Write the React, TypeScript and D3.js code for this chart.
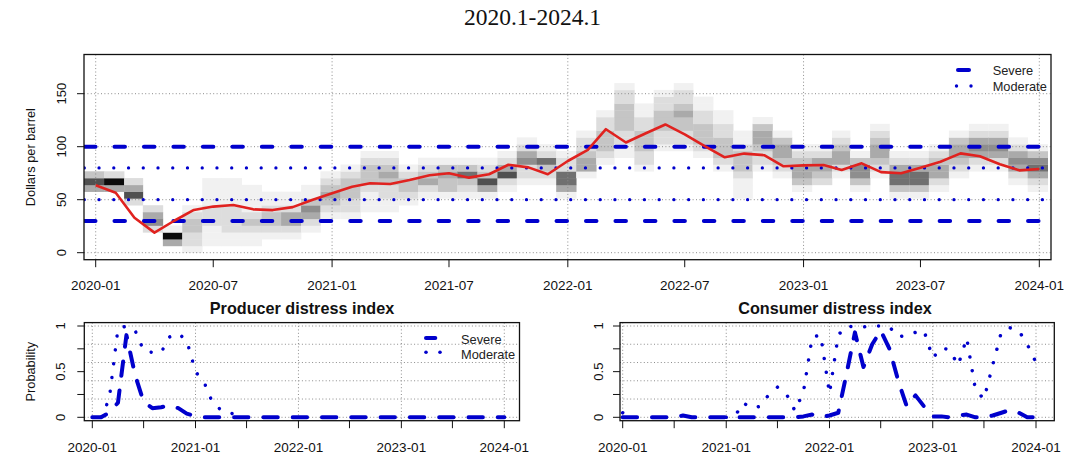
import React from "react";
import * as d3 from "d3";

// monthly observations, 2020-01 .. 2024-01
const MONTHS: Date[] = d3.timeMonth.range(new Date(2020, 0, 1), new Date(2024, 1, 1));

const TITLE = "2020.1-2024.1";
const PRICE_LABEL = "Dollars per barrel";
const PROB_LABEL = "Probability";
const PANEL_TITLES = ["Producer distress index", "Consumer distress index"];
const LEGEND = ["Severe", "Moderate"];

// oil price, dollars per barrel (red line)
const PRICE = [
  63.6, 56.6, 33.0, 18.9, 29.9, 40.3, 43.5, 45.0, 40.9, 40.2, 43.0, 49.7,
  56.0, 62.3, 65.5, 64.8, 68.6, 73.0, 75.0, 70.8, 74.0, 83.0, 80.5, 74.0,
  86.5, 97.0, 116.5, 104.0, 112.5, 121.0, 111.7, 100.5, 90.0, 93.5, 92.0, 81.5,
  82.4, 82.7, 78.0, 84.3, 76.0, 75.0, 80.2, 85.8, 93.7, 91.0, 83.5, 77.7,
  79.0,
];

// density columns: lowest bin per month and shade (0 white .. 9 black) of each bin upwards
const HEAT_BIN = 6.4;
const HEAT_FROM = [
  9, 9, 7, 3, 1, 0, 1, 1, 1, 2, 2, 3,
  5, 5, 6, 6, 7, 8, 8, 8, 8, 9, 10, 10,
  8, 11, 13, 14, 12, 15, 15, 14, 12, 8, 12, 11,
  9, 10, 11, 9, 11, 8, 8, 9, 11, 12, 12, 10,
  9,
];
const HEAT_SHADES = [
  "473", "492", "2742", "2542", "491", "1223321", "1112221111", "1122221111", "112321111", "1233211", "1244211", "1245311",
  "1234321", "12233321", "111233321", "112234321", "123321", "124321", "133431", "123631", "147321", "127421", "1225421", "123621",
  "1466221", "1443221", "12333221", "11223333221", "1223332211", "122333221", "1223343221", "123332211", "123332211", "1112333211", "12234431", "1234431",
  "1344321", "234421", "1244321", "135531", "12344321", "1366421", "1366421", "1244321", "1234431", "1245421", "1245421", "1245421",
  "1246531",
];

const SEVERE_LEVELS = [30, 100];
const MODERATE_LEVELS = [50, 80];
const PRICE_TICKS = [0, 50, 100, 150];

const PROD_SEVERE = [
  0, 0, 0.05, 0.16, 0.9, 0.46, 0.17, 0.1, 0.11, 0.13, 0.1, 0.04,
  0.01, 0, 0, 0, 0, 0, 0, 0, 0, 0, 0, 0,
  0, 0, 0, 0, 0, 0, 0, 0, 0, 0, 0, 0,
  0, 0, 0, 0, 0, 0, 0, 0, 0, 0, 0, 0,
  0,
];
const PROD_MODERATE = [
  0, 0, 0.2, 0.97, 1.0, 0.95, 0.73, 0.71, 0.71, 0.88, 0.92, 0.84,
  0.5, 0.38, 0.17, 0.08, 0.06, 0, 0, 0, 0, 0, 0, 0,
  0, 0, 0, 0, 0, 0, 0, 0, 0, 0, 0, 0,
  0, 0, 0, 0, 0, 0, 0, 0, 0, 0, 0, 0,
  0,
];
const CONS_SEVERE = [
  0, 0, 0, 0, 0, 0, 0, 0.02, 0, 0, 0, 0,
  0, 0, 0, 0, 0, 0, 0, 0, 0, 0.01, 0.03, 0,
  0.02, 0.05, 0.46, 0.93, 0.55, 0.8, 0.95, 0.75, 0.4, 0.12, 0.24, 0.12,
  0.01, 0.01, 0, 0.02, 0.03, 0, 0, 0.02, 0.05, 0.08, 0.05, 0,
  0,
];
const CONS_MODERATE = [
  0.05, 0, 0, 0, 0, 0, 0, 0, 0, 0, 0, 0,
  0, 0.01, 0.16, 0.1, 0.12, 0.25, 0.33, 0.26, 0.07, 0.28, 0.88, 0.9,
  0.26, 0.9, 1.0, 0.99, 0.99, 1.0, 1.0, 0.99, 0.88, 0.9, 0.93, 0.95,
  0.65, 0.76, 0.74, 0.57, 0.87, 0.3, 0.2, 0.57, 0.94, 0.98, 0.95, 0.8,
  0.6,
];

const PROB_TICKS = [0, 0.25, 0.5, 0.75, 1];
const PROB_TICK_LABELS = ["0", "", "0.5", "", "1"];
const PROB_GRID = [0, 0.2, 0.4, 0.6, 0.8, 1];

const BLUE = "#0000cc";
const RED = "#e0221f";
const GRID = "#8c8c8c";
const SANS = "'Liberation Sans', Arial, Helvetica, sans-serif";

// grey ramp, light shades stay pale
const shade = (s: number) => {
  const g = Math.round(255 - 243 * Math.pow(s / 9, 1.3));
  return d3.rgb(g, g, g).formatHex();
};
const halfYears = MONTHS.filter((d) => d.getMonth() % 6 === 0);
const years = MONTHS.filter((d) => d.getMonth() === 0);
const fmt = d3.timeFormat("%Y-%m");

function MainChart() {
  const box = { l: 84, r: 1051, t: 54.5, b: 259.7 };
  const x = d3.scaleTime().domain([MONTHS[0], MONTHS[48]]).range([95.7, 1039.3]);
  const y = d3.scaleLinear().domain([0, 150]).range([252.7, 93.7]);
  const line = d3
    .line<number>()
    .x((_, i) => x(MONTHS[i]))
    .y((d) => y(d));

  return (
    <g>
      <defs>
        <clipPath id="main-clip">
          <rect x={box.l} y={box.t} width={box.r - box.l} height={box.b - box.t} />
        </clipPath>
      </defs>
      <g clipPath="url(#main-clip)">
        {MONTHS.map((m, i) => {
          const x0 = x(new Date(m.getFullYear(), m.getMonth() - 1, 14));
          const x1 = x(new Date(m.getFullYear(), m.getMonth(), 14));
          return HEAT_SHADES[i].split("").map((s, j) => {
            const b = HEAT_FROM[i] + j;
            return (
              <rect
                key={`${i}-${j}`}
                x={x0}
                width={x1 - x0 + 0.3}
                y={y((b + 1) * HEAT_BIN)}
                height={y(b * HEAT_BIN) - y((b + 1) * HEAT_BIN) + 0.3}
                fill={shade(+s)}
              />
            );
          });
        })}
        {PRICE_TICKS.map((v) => (
          <line key={v} x1={box.l} x2={box.r} y1={y(v)} y2={y(v)} stroke={GRID} strokeDasharray="1 2.4" />
        ))}
        {years.map((d) => (
          <line key={+d} x1={x(d)} x2={x(d)} y1={box.t} y2={box.b} stroke={GRID} strokeDasharray="1 2.4" />
        ))}
        {SEVERE_LEVELS.map((v) => (
          <line
            key={v}
            x1={box.l}
            x2={box.r}
            y1={y(v)}
            y2={y(v)}
            stroke={BLUE}
            strokeWidth={4}
            strokeLinecap="round"
            strokeDasharray="10.5 18.97"
            strokeDashoffset={-1}
          />
        ))}
        {MODERATE_LEVELS.map((v) => (
          <line
            key={v}
            x1={box.l}
            x2={box.r}
            y1={y(v)}
            y2={y(v)}
            stroke={BLUE}
            strokeWidth={3.3}
            strokeLinecap="round"
            strokeDasharray="0.01 14.73"
            strokeDashoffset={-0.3}
          />
        ))}
        <path d={line(PRICE) ?? ""} fill="none" stroke={RED} strokeWidth={2.6} strokeLinejoin="round" />
      </g>
      <rect x={box.l} y={box.t} width={box.r - box.l} height={box.b - box.t} fill="none" stroke="#111" strokeWidth={1.3} />
      {PRICE_TICKS.map((v) => (
        <g key={v}>
          <line x1={box.l} x2={box.l - 7} y1={y(v)} y2={y(v)} stroke="#111" />
          <text
            transform={`translate(61,${y(v)}) rotate(-90)`}
            dy="0.36em"
            textAnchor="middle"
            fontSize={13}
            fontFamily={SANS}
            fill="#111"
          >
            {v}
          </text>
        </g>
      ))}
      {halfYears.map((d) => (
        <g key={+d}>
          <line x1={x(d)} x2={x(d)} y1={box.b} y2={box.b + 7.5} stroke="#111" />
          <text x={x(d)} y={290} textAnchor="middle" fontSize={13.5} fontFamily={SANS} fill="#111">
            {fmt(d)}
          </text>
        </g>
      ))}
      <text
        transform={`translate(30,${(box.t + box.b) / 2}) rotate(-90)`}
        dy="0.36em"
        textAnchor="middle"
        fontSize={12.8}
        fontFamily={SANS}
        fill="#111"
      >
        {PRICE_LABEL}
      </text>
      <line x1={958} x2={969} y1={70} y2={70} stroke={BLUE} strokeWidth={4} strokeLinecap="round" />
      <circle cx={956.5} cy={86} r={1.7} fill={BLUE} />
      <circle cx={971} cy={86} r={1.7} fill={BLUE} />
      <text x={992.7} y={75} fontSize={12.8} fontFamily={SANS} fill="#222">
        {LEGEND[0]}
      </text>
      <text x={992.7} y={91} fontSize={12.8} fontFamily={SANS} fill="#222">
        {LEGEND[1]}
      </text>
    </g>
  );
}

interface PanelProps {
  title: string;
  box: { l: number; r: number };
  range: [number, number];
  labelX: number;
  severe: number[];
  moderate: number[];
  showYLabel?: boolean;
  showLegend?: boolean;
  titleX: number;
}

function DistressPanel({ title, box, range, labelX, severe, moderate, showYLabel, showLegend, titleX }: PanelProps) {
  const t = 322.6;
  const b = 420.7;
  const x = d3.scaleTime().domain([MONTHS[0], MONTHS[48]]).range(range);
  const y = d3.scaleLinear().domain([0, 1]).range([417.3, 326]);
  // flat stretches at zero sit under the severe line and are not visible
  const shown = moderate.map((d, i) => d > 0 || (moderate[i - 1] ?? 0) > 0 || (moderate[i + 1] ?? 0) > 0);
  const line = d3
    .line<number>()
    .x((_, i) => x(MONTHS[i]))
    .y((d) => y(d));
  const modLine = d3
    .line<number>()
    .defined((_, i) => shown[i])
    .x((_, i) => x(MONTHS[i]))
    .y((d) => y(d));

  return (
    <g>
      {PROB_GRID.map((v) => (
        <line key={v} x1={box.l} x2={box.r} y1={y(v)} y2={y(v)} stroke={GRID} strokeDasharray="1 2.4" />
      ))}
      {years.map((d) => (
        <line key={+d} x1={x(d)} x2={x(d)} y1={t} y2={b} stroke={GRID} strokeDasharray="1 2.4" />
      ))}
      <path
        d={modLine(moderate) ?? ""}
        fill="none"
        stroke={BLUE}
        strokeWidth={3.5}
        strokeLinecap="round"
        strokeDasharray="0.01 13.9"
      />
      <path
        d={line(severe) ?? ""}
        fill="none"
        stroke={BLUE}
        strokeWidth={4}
        strokeLinecap="round"
        strokeLinejoin="round"
        strokeDasharray="14.4 14.9"
      />
      <rect x={box.l} y={t} width={box.r - box.l} height={b - t} fill="none" stroke="#111" strokeWidth={1.3} />
      {PROB_TICKS.map((v, i) => (
        <g key={v}>
          <line x1={box.l} x2={box.l - 7} y1={y(v)} y2={y(v)} stroke="#111" />
          {PROB_TICK_LABELS[i] && (
            <text
              transform={`translate(${labelX},${y(v)}) rotate(-90)`}
              dy="0.36em"
              textAnchor="middle"
              fontSize={13}
              fontFamily={SANS}
              fill="#111"
            >
              {PROB_TICK_LABELS[i]}
            </text>
          )}
        </g>
      ))}
      {halfYears.map((d) => (
        <line key={+d} x1={x(d)} x2={x(d)} y1={b} y2={b + 7.5} stroke="#111" />
      ))}
      {years.map((d) => (
        <text key={+d} x={x(d)} y={452} textAnchor="middle" fontSize={13.5} fontFamily={SANS} fill="#111">
          {fmt(d)}
        </text>
      ))}
      <text x={titleX} y={314} textAnchor="middle" fontSize={16.2} fontWeight="bold" fontFamily={SANS} fill="#111">
        {title}
      </text>
      {showYLabel && (
        <text
          transform={`translate(30,${(t + b) / 2}) rotate(-90)`}
          dy="0.36em"
          textAnchor="middle"
          fontSize={12.8}
          fontFamily={SANS}
          fill="#111"
        >
          {PROB_LABEL}
        </text>
      )}
      {showLegend && (
        <g>
          <line x1={426} x2={435.3} y1={338} y2={338} stroke={BLUE} strokeWidth={4} strokeLinecap="round" />
          <circle cx={426} cy={352.3} r={1.8} fill={BLUE} />
          <circle cx={440} cy={352.3} r={1.8} fill={BLUE} />
          <text x={461} y={344} fontSize={12.8} fontFamily={SANS} fill="#222">
            {LEGEND[0]}
          </text>
          <text x={461} y={359} fontSize={12.8} fontFamily={SANS} fill="#222">
            {LEGEND[1]}
          </text>
        </g>
      )}
    </g>
  );
}

export default function App() {
  return (
    <div style={{ position: "absolute", left: 0, top: 0 }}>
      <svg width={1080} height={459} viewBox="0 0 1080 459" style={{ display: "block", background: "#fff" }}>
        <text
          x={532.5}
          y={24.5}
          textAnchor="middle"
          fontSize={23.5}
          fontFamily="'Liberation Serif', 'Times New Roman', serif"
          fill="#111"
        >
          {TITLE}
        </text>
        <MainChart />
        <DistressPanel
          title={PANEL_TITLES[0]}
          box={{ l: 84.3, r: 519.5 }}
          range={[92.3, 504.3]}
          labelX={60}
          severe={PROD_SEVERE}
          moderate={PROD_MODERATE}
          showYLabel
          showLegend
          titleX={302}
        />
        <DistressPanel
          title={PANEL_TITLES[1]}
          box={{ l: 620, r: 1054.3 }}
          range={[622.7, 1036]}
          labelX={598}
          severe={CONS_SEVERE}
          moderate={CONS_MODERATE}
          titleX={835}
        />
      </svg>
    </div>
  );
}
